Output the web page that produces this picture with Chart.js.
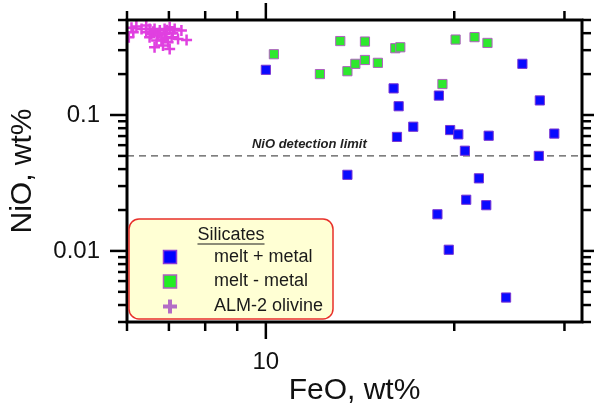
<!DOCTYPE html>
<html>
<head>
<meta charset="utf-8">
<script src="https://cdn.jsdelivr.net/npm/chart.js@4.4.0/dist/chart.umd.min.js"></script>
<style>
  html, body { margin: 0; padding: 0; background: #fff; }
  canvas { display: block; }
</style>
</head>
<body>
<canvas id="chart" width="594" height="409"></canvas>
<script>
// FeO and NiO (wt%)
const meltPlusMetalFeO = [10.0, 25.7, 16.0, 18.9, 16.3, 27.4, 17.2, 16.2, 19.7, 20.3, 22.7,
                          28.9, 20.8, 27.3, 13.5, 21.9, 20.9, 22.5, 18.8, 19.6, 24.2];
const meltPlusMetalNiO = [0.215, 0.238, 0.157, 0.139, 0.116, 0.128, 0.082, 0.069, 0.0775, 0.072, 0.0704,
                          0.073, 0.0546, 0.050, 0.0363, 0.0342, 0.0238, 0.0217, 0.0186, 0.0102, 0.00454];

const meltMinusMetalFeO = [10.3, 12.2, 13.15, 13.5, 13.9, 14.4, 14.4, 15.1, 16.1, 16.4, 19.15, 20.1, 21.55, 22.6];
const meltMinusMetalNiO = [0.28, 0.20, 0.35, 0.21, 0.238, 0.254, 0.347, 0.242, 0.31, 0.315, 0.169, 0.359, 0.374, 0.339];

const olivineFeO = [6.10, 6.21, 6.04, 6.33, 6.44, 6.52, 6.64, 6.77, 6.89, 7.02, 7.15, 7.33, 7.47, 6.56,
                    6.73, 6.89, 7.07, 6.64, 6.85, 7.02, 7.24, 6.52, 6.81, 6.98, 6.14, 6.69, 6.44, 6.60,
                    6.75, 6.92, 7.10, 6.95];
const olivineNiO = [0.438, 0.447, 0.374, 0.430, 0.455, 0.430, 0.430, 0.418, 0.430, 0.443, 0.430, 0.418, 0.357, 0.395,
                    0.384, 0.395, 0.374, 0.315, 0.324, 0.306, 0.363, 0.374, 0.357, 0.343, 0.407, 0.353, 0.407, 0.41,
                    0.40, 0.37, 0.40, 0.42];

const detectionLimit = 0.05;
const xRange = [6, 32];
const yRange = [0.003, 0.5];
const xTicksMajor = [10];
const xTicksMinor = [6, 7, 8, 9, 20, 30];
const yTicksMajor = [0.01, 0.1];
const yTicksMinor = [0.003, 0.004, 0.005, 0.006, 0.007, 0.008, 0.009,
                     0.02, 0.03, 0.04, 0.05, 0.06, 0.07, 0.08, 0.09,
                     0.2, 0.3, 0.4, 0.5];
const legendTitle = 'Silicates';
const legendLabels = ['melt + metal', 'melt - metal', 'ALM-2 olivine'];

const FONT = 'Arial, "Liberation Sans", sans-serif';

function toPoints(xs, ys) {
  return xs.map((x, i) => ({ x: x, y: ys[i] }));
}

function line(ctx, x1, y1, x2, y2) {
  ctx.beginPath();
  ctx.moveTo(x1, y1);
  ctx.lineTo(x2, y2);
  ctx.stroke();
}

function drawSquare(ctx, x, y, s, fill, border) {
  ctx.fillStyle = fill;
  ctx.fillRect(x - s / 2, y - s / 2, s, s);
  ctx.strokeStyle = border;
  ctx.lineWidth = 1.5;
  ctx.strokeRect(x - s / 2, y - s / 2, s, s);
}

// frame, outward ticks on all four sides, the limit label and the boxed legend
const framePlugin = {
  id: 'frame',
  afterDraw(chart) {
    const ctx = chart.ctx;
    const a = chart.chartArea;
    const xs = chart.scales.x, ys = chart.scales.y;
    ctx.save();

    ctx.strokeStyle = '#000';
    ctx.lineWidth = 2.5;
    xTicksMinor.concat(xTicksMajor).forEach(v => {
      const len = xTicksMajor.includes(v) ? 17 : 9;
      const px = xs.getPixelForValue(v);
      line(ctx, px, a.bottom, px, a.bottom + len);
      line(ctx, px, a.top, px, a.top - len);
    });
    yTicksMinor.concat(yTicksMajor).forEach(v => {
      const len = yTicksMajor.includes(v) ? 17 : 9;
      const py = ys.getPixelForValue(v);
      line(ctx, a.left, py, a.left - len, py);
      line(ctx, a.right, py, a.right + len, py);
    });
    ctx.lineWidth = 3;
    ctx.strokeRect(a.left, a.top, a.right - a.left, a.bottom - a.top);

    // detection limit label
    ctx.font = 'italic bold 13px ' + FONT;
    ctx.fillStyle = '#222';
    ctx.textAlign = 'left';
    ctx.textBaseline = 'alphabetic';
    ctx.fillText('NiO detection limit', xs.getPixelForValue(9.5), ys.getPixelForValue(detectionLimit) - 8);

    // legend box
    const bx = 129, by = 219, bw = 204, bh = 100;
    ctx.beginPath();
    ctx.roundRect(bx, by, bw, bh, 10);
    ctx.fillStyle = '#ffffd4';
    ctx.fill();
    ctx.strokeStyle = '#e8302a';
    ctx.lineWidth = 1.5;
    ctx.stroke();

    ctx.fillStyle = '#1a1a1a';
    ctx.font = '18px ' + FONT;
    ctx.textAlign = 'center';
    ctx.textBaseline = 'middle';
    ctx.fillText(legendTitle, 231, 235);
    const tw = ctx.measureText(legendTitle).width;
    ctx.strokeStyle = '#1a1a1a';
    ctx.lineWidth = 1.2;
    line(ctx, 231 - tw / 2, 244, 231 + tw / 2, 244);

    const rows = [257, 281.5, 306.5];
    drawSquare(ctx, 170, rows[0], 13, '#0000ff', '#8a3ad8');
    drawSquare(ctx, 170, rows[1], 13, '#22ee22', '#b060c0');
    ctx.strokeStyle = '#b46cc6';
    ctx.lineWidth = 4;
    line(ctx, 163, rows[2], 177, rows[2]);
    line(ctx, 170, rows[2] - 7, 170, rows[2] + 7);

    ctx.fillStyle = '#1a1a1a';
    ctx.textAlign = 'left';
    legendLabels.forEach((t, i) => ctx.fillText(t, 214, rows[i]));

    ctx.restore();
  }
};

new Chart(document.getElementById('chart'), {
  type: 'scatter',
  data: {
    datasets: [
      {
        label: legendLabels[0],
        data: toPoints(meltPlusMetalFeO, meltPlusMetalNiO),
        pointStyle: 'rect',
        pointRadius: 6.5,
        backgroundColor: '#0a0aff',
        borderColor: '#7a36d4',
        borderWidth: 1
      },
      {
        label: legendLabels[1],
        data: toPoints(meltMinusMetalFeO, meltMinusMetalNiO),
        pointStyle: 'rect',
        pointRadius: 6.5,
        backgroundColor: '#2ee82e',
        borderColor: '#b060c0',
        borderWidth: 1
      },
      {
        label: legendLabels[2],
        data: toPoints(olivineFeO, olivineNiO),
        pointStyle: 'cross',
        pointRadius: 5.5,
        borderColor: '#e040e0',
        borderWidth: 2.5
      },
      {
        type: 'line',
        label: 'detection limit',
        data: toPoints(xRange, [detectionLimit, detectionLimit]),
        borderColor: '#555',
        borderWidth: 1.3,
        borderDash: [7, 5],
        pointRadius: 0,
        order: 10
      }
    ]
  },
  options: {
    responsive: false,
    animation: false,
    events: [],
    layout: { padding: { top: 20, right: 12, left: 0, bottom: 0 } },
    plugins: {
      legend: { display: false },
      tooltip: { enabled: false }
    },
    scales: {
      x: {
        type: 'logarithmic',
        position: 'bottom',
        min: xRange[0],
        max: xRange[1],
        grid: { display: false, drawTicks: false },
        border: { display: false },
        afterBuildTicks: scale => { scale.ticks = xTicksMinor.concat(xTicksMajor).map(v => ({ value: v })); },
        afterFit: scale => {
          scale.height = 87;
          scale.paddingLeft = 0;
          scale.paddingRight = 0;
        },
        ticks: {
          autoSkip: false,
          maxRotation: 0,
          padding: 26,
          color: '#111',
          font: { family: FONT, size: 24 },
          callback: v => (xTicksMajor.includes(v) ? String(v) : '')
        },
        title: {
          display: true,
          text: 'FeO, wt%',
          color: '#111',
          font: { family: FONT, size: 30 },
          padding: { top: 0, bottom: 0 }
        }
      },
      y: {
        type: 'logarithmic',
        position: 'left',
        min: yRange[0],
        max: yRange[1],
        grid: { display: false, drawTicks: false },
        border: { display: false },
        afterBuildTicks: scale => { scale.ticks = yTicksMajor.map(v => ({ value: v })); },
        afterFit: scale => {
          scale.width = 127;
          scale.paddingTop = 0;
          scale.paddingBottom = 0;
        },
        ticks: {
          autoSkip: false,
          padding: 27,
          color: '#111',
          font: { family: FONT, size: 24 },
          callback: v => String(v)
        },
        title: {
          display: true,
          text: 'NiO, wt%',
          color: '#111',
          font: { family: FONT, size: 30 },
          padding: { top: 5, bottom: 0 }
        }
      }
    }
  },
  plugins: [framePlugin]
});
</script>
</body>
</html>
